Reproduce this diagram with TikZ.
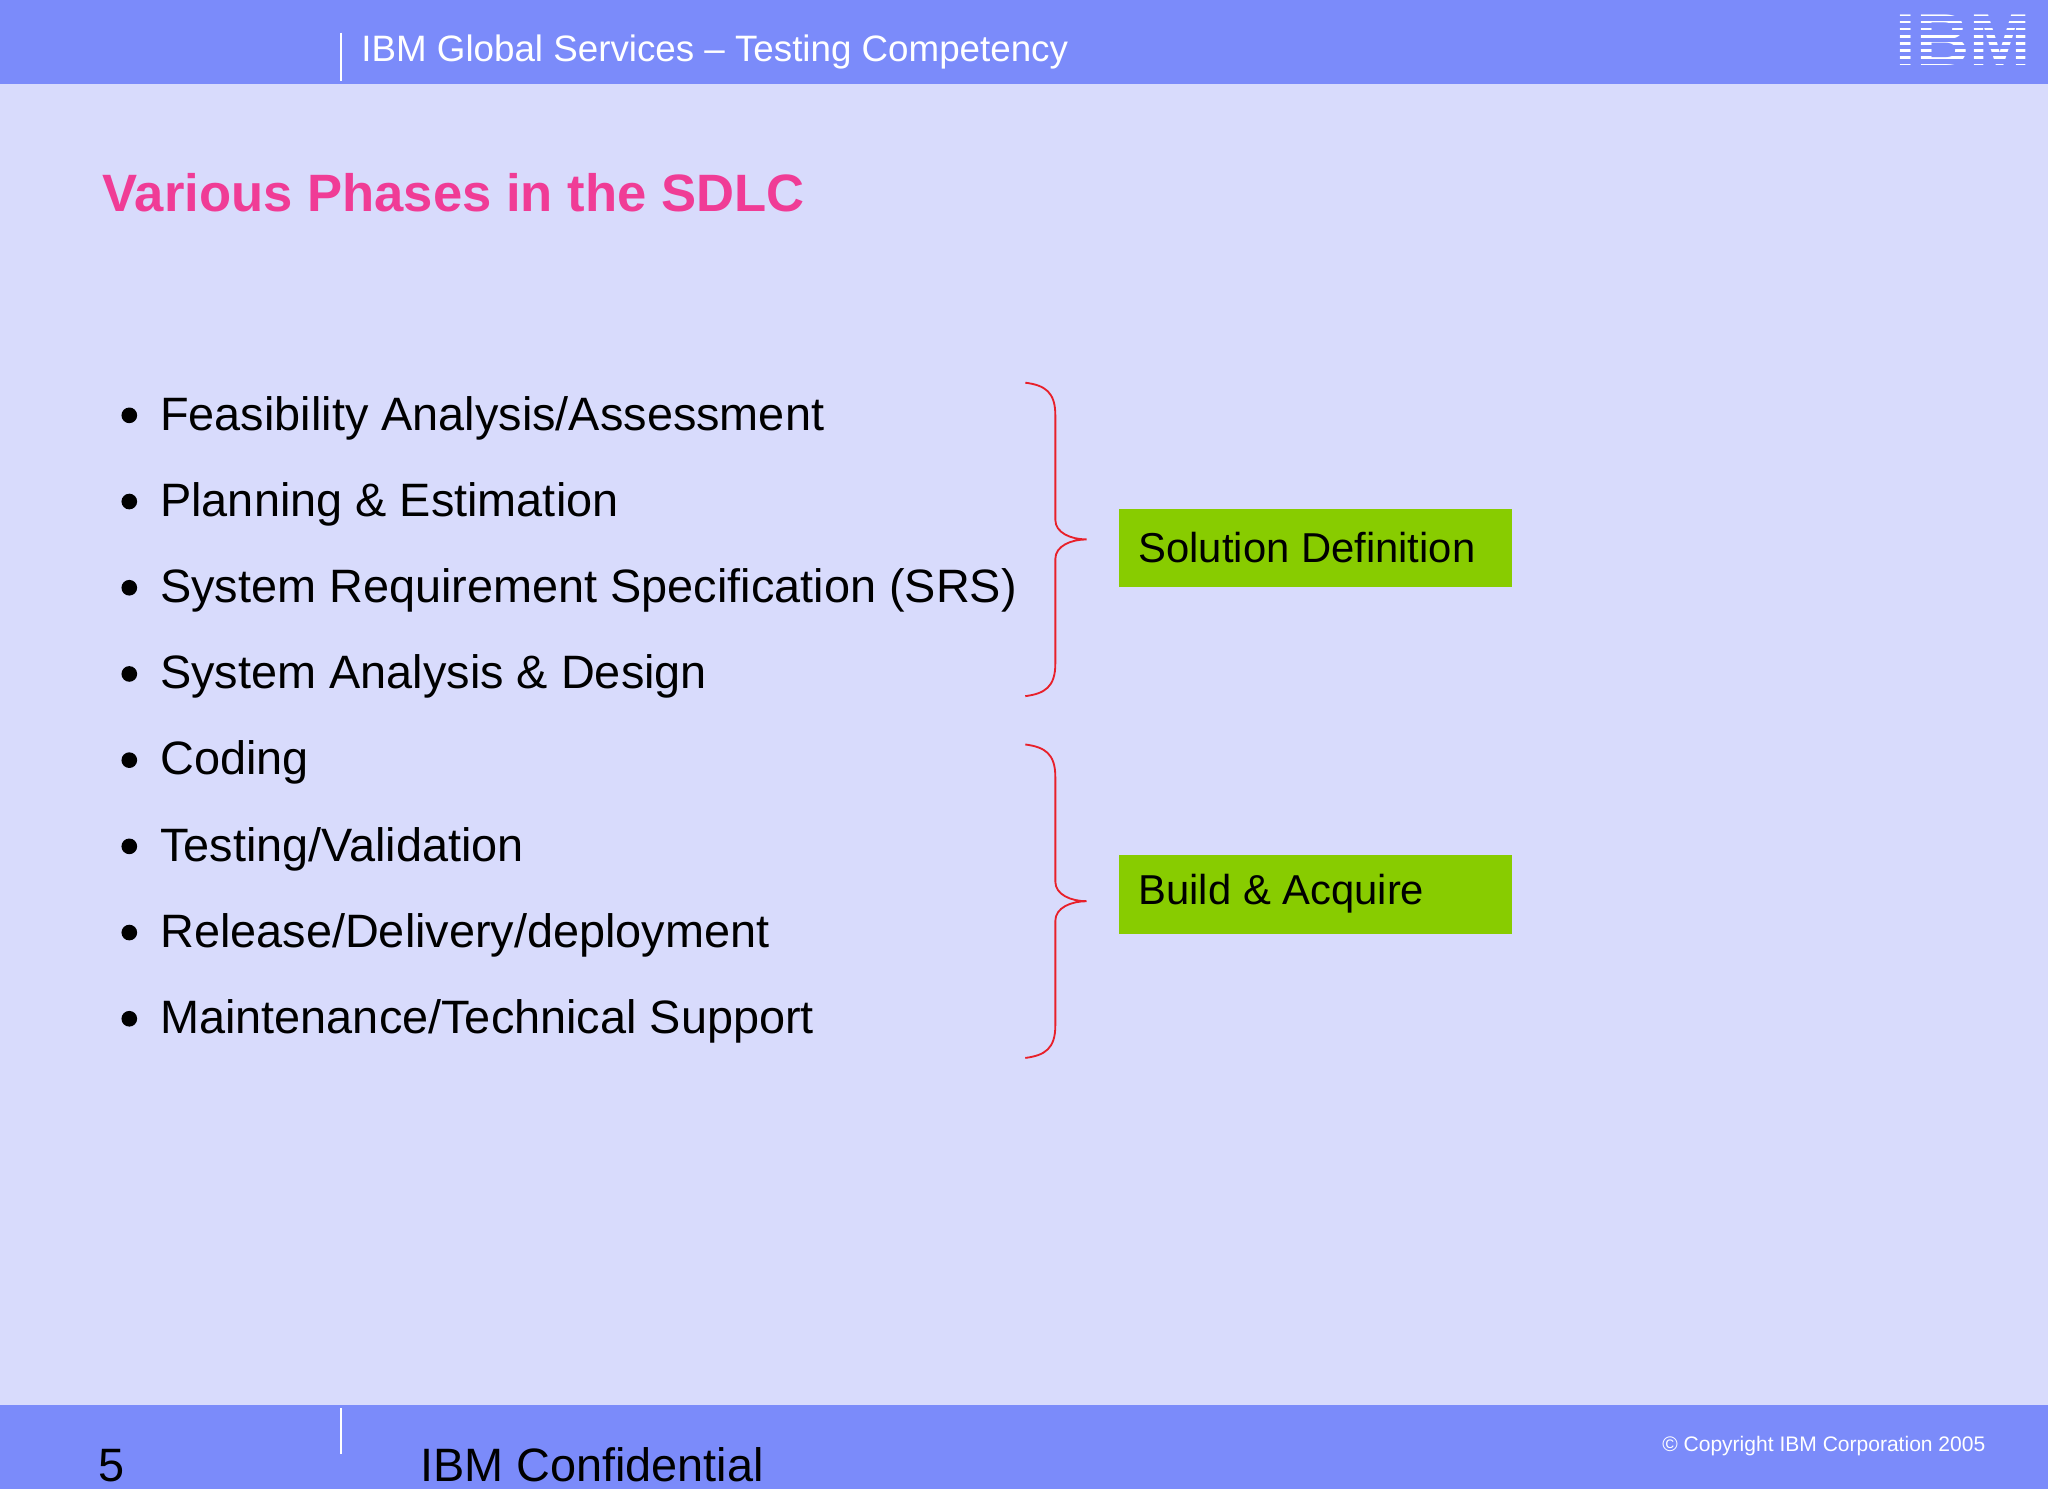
\documentclass[tikz,border=0pt]{standalone}
\usepackage{fontspec}
\setmainfont{Liberation Sans}
\definecolor{bg}{HTML}{D8DBFC}
\definecolor{bar}{HTML}{7B8BFA}
\definecolor{pinkt}{HTML}{F03C96}
\definecolor{grn}{HTML}{88CC00}
\definecolor{brc}{HTML}{E8202A}
\tikzset{
  bullet/.style={anchor=west,font=\fontsize{10.2}{12}\selectfont,inner sep=0},
  gbox/.style={fill=grn,minimum width=3.01cm,minimum height=0.6cm,anchor=north west,inner sep=0},
  brace/.style={draw=brc,line width=0.4pt}
}
\begin{document}
\begin{tikzpicture}[x=0.01cm,y=-0.01cm]
\useasboundingbox (0,0) rectangle (1568,1140);
\fill[bg] (0,0) rectangle (1568,1140);
\fill[bar] (0,0) rectangle (1568,64);
\fill[bar] (0,1076) rectangle (1568,1140);
\draw[white,line width=0.6pt] (261,25) -- (261,62);
\draw[white,line width=0.6pt] (261,1078) -- (261,1113);
\node[anchor=west,inner sep=0,text=white,font=\fontsize{8}{9}\selectfont] (hdr) at (276,40) {IBM Global Services – Testing Competency};
\node[anchor=center,inner sep=0,text=white,font=\fontsize{16}{16}\bfseries] (logo) at (1503,31) {IBM};
\foreach \yy in {14,19.5,25,30.5,36,41.5,47}{\draw[bar,line width=1pt] (1445,\yy) -- (1562,\yy);}
\node[anchor=base west,inner sep=0,text=pinkt,font=\fontsize{11.45}{13}\bfseries] (title) at (78,162) {Various Phases in the SDLC};
\foreach \t [count=\i] in {Feasibility Analysis/Assessment,Planning \& Estimation,System Requirement Specification (SRS),System Analysis \& Design,Coding,Testing/Validation,Release/Delivery/deployment,Maintenance/Technical Support}{
  \fill (99,{318+66*(\i-1)}) circle (6);
  \node[bullet] (b\i) at (122,{320+66*(\i-1)}) {\t};
}
\draw[brace] (785,293) .. controls (800,295) and (808,300) .. (808,318) -- (808,398) .. controls (808,408) and (820,413) .. (832,413) .. controls (820,413) and (808,418) .. (808,428) -- (808,508) .. controls (808,526) and (800,531) .. (785,533);
\draw[brace] (785,570) .. controls (800,572) and (808,577) .. (808,595) -- (808,675) .. controls (808,685) and (820,690) .. (832,690) .. controls (820,690) and (808,695) .. (808,705) -- (808,785) .. controls (808,803) and (800,808) .. (785,810);
\node[gbox] (sd) at (856,389) {};
\node[anchor=west,inner sep=0,font=\fontsize{9.1}{11}\selectfont] (sdt) at (871,419) {Solution Definition};
\node[gbox] (ba) at (856,654) {};
\node[anchor=west,inner sep=0,font=\fontsize{9.1}{11}\selectfont] (bat) at (871,684) {Build \& Acquire};
\node[anchor=base west,inner sep=0,font=\fontsize{10.2}{12}\selectfont] (pg) at (75,1134) {5};
\node[anchor=base west,inner sep=0,font=\fontsize{10.2}{12}\selectfont] (conf) at (321,1134) {IBM Confidential};
\node[anchor=west,inner sep=0,text=white,font=\fontsize{4.58}{6}\selectfont] (copy) at (1272,1107) {© Copyright IBM Corporation 2005};
\end{tikzpicture}
\end{document}
